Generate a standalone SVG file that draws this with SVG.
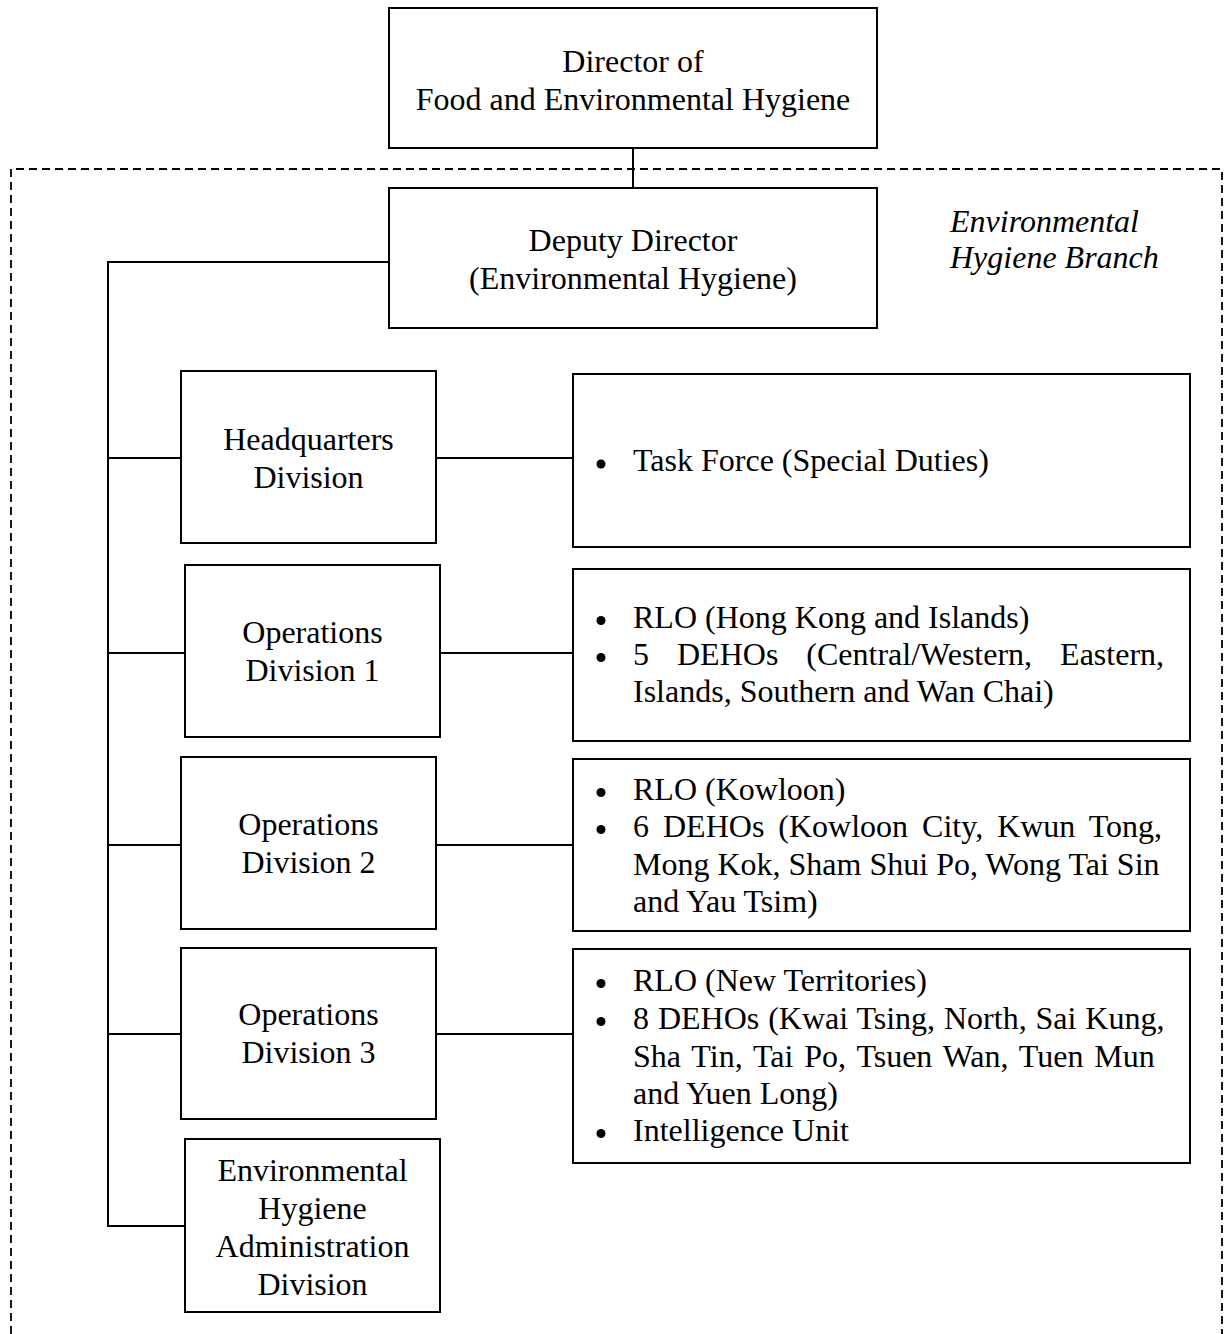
<svg xmlns="http://www.w3.org/2000/svg" width="1224" height="1334" viewBox="0 0 1224 1334">
<style>
  .box { fill: #ffffff; stroke: #000000; stroke-width: 2; }
  .conn { fill: none; stroke: #000000; stroke-width: 2; }
  .dash { fill: none; stroke: #000000; stroke-width: 1.8; stroke-dasharray: 8 5; }
  .dot { fill: #000000; }
  text { font-family: "Liberation Serif", "Times New Roman", serif; font-size: 32px; fill: #000000; }
  .c { text-anchor: middle; }
  .it { font-style: italic; }
</style>
<rect width="1224" height="1334" fill="#ffffff"/>

<g id="branch-boundary">
  <path class="dash" d="M11,1334 V169 H1222 V1334"/>
  <text class="it" x="950" y="232">Environmental</text>
  <text class="it" x="950" y="268">Hygiene Branch</text>
</g>

<g id="connectors">
  <line class="conn" x1="633" y1="148" x2="633" y2="188"/>
  <polyline class="conn" points="389,262 108,262 108,1226 185,1226"/>
  <line class="conn" x1="108" y1="458" x2="181" y2="458"/>
  <line class="conn" x1="108" y1="653" x2="185" y2="653"/>
  <line class="conn" x1="108" y1="845" x2="181" y2="845"/>
  <line class="conn" x1="108" y1="1034" x2="181" y2="1034"/>
  <line class="conn" x1="436" y1="458" x2="573" y2="458"/>
  <line class="conn" x1="440" y1="653" x2="573" y2="653"/>
  <line class="conn" x1="436" y1="845" x2="573" y2="845"/>
  <line class="conn" x1="436" y1="1034" x2="573" y2="1034"/>
</g>

<g id="director">
  <rect class="box" x="389" y="8" width="488" height="140"/>
  <text class="c" x="633" y="72">Director of</text>
  <text class="c" x="633" y="110">Food and Environmental Hygiene</text>
</g>

<g id="deputy-director">
  <rect class="box" x="389" y="188" width="488" height="140"/>
  <text class="c" x="633" y="251">Deputy Director</text>
  <text class="c" x="633" y="289">(Environmental Hygiene)</text>
</g>

<g id="hq-division">
  <rect class="box" x="181" y="371" width="255" height="172"/>
  <text class="c" x="308.5" y="450">Headquarters</text>
  <text class="c" x="308.5" y="488">Division</text>
</g>

<g id="hq-units">
  <rect class="box" x="573" y="374" width="617" height="173"/>
  <circle class="dot" cx="601" cy="464" r="4.5"/>
  <text x="633" y="471">Task Force (Special Duties)</text>
</g>

<g id="ops-division-1">
  <rect class="box" x="185" y="565" width="255" height="172"/>
  <text class="c" x="312.5" y="643">Operations</text>
  <text class="c" x="312.5" y="681">Division 1</text>
</g>

<g id="ops-1-units">
  <rect class="box" x="573" y="569" width="617" height="172"/>
  <circle class="dot" cx="601" cy="620.5" r="4.5"/>
  <text x="633" y="628">RLO (Hong Kong and Islands)</text>
  <circle class="dot" cx="601" cy="657.5" r="4.5"/>
  <text x="633" y="665" style="word-spacing:20px">5 DEHOs (Central/Western, Eastern,</text>
  <text x="633" y="702">Islands, Southern and Wan Chai)</text>
</g>

<g id="ops-division-2">
  <rect class="box" x="181" y="757" width="255" height="172"/>
  <text class="c" x="308.5" y="835">Operations</text>
  <text class="c" x="308.5" y="873">Division 2</text>
</g>

<g id="ops-2-units">
  <rect class="box" x="573" y="759" width="617" height="172"/>
  <circle class="dot" cx="601" cy="792.5" r="4.5"/>
  <text x="633" y="800">RLO (Kowloon)</text>
  <circle class="dot" cx="601" cy="829.5" r="4.5"/>
  <text x="633" y="837" style="word-spacing:6px">6 DEHOs (Kowloon City, Kwun Tong,</text>
  <text x="633" y="875">Mong Kok, Sham Shui Po, Wong Tai Sin</text>
  <text x="633" y="912">and Yau Tsim)</text>
</g>

<g id="ops-division-3">
  <rect class="box" x="181" y="948" width="255" height="171"/>
  <text class="c" x="308.5" y="1025">Operations</text>
  <text class="c" x="308.5" y="1063">Division 3</text>
</g>

<g id="ops-3-units">
  <rect class="box" x="573" y="949" width="617" height="214"/>
  <circle class="dot" cx="601" cy="983.5" r="4.5"/>
  <text x="633" y="991">RLO (New Territories)</text>
  <circle class="dot" cx="601" cy="1021.5" r="4.5"/>
  <text x="633" y="1029" style="word-spacing:0.9px">8 DEHOs (Kwai Tsing, North, Sai Kung,</text>
  <text x="633" y="1067" style="word-spacing:2.9px">Sha Tin, Tai Po, Tsuen Wan, Tuen Mun</text>
  <text x="633" y="1104">and Yuen Long)</text>
  <circle class="dot" cx="601" cy="1133.5" r="4.5"/>
  <text x="633" y="1141">Intelligence Unit</text>
</g>

<g id="eh-admin-division">
  <rect class="box" x="185" y="1139" width="255" height="173"/>
  <text class="c" x="312.5" y="1181">Environmental</text>
  <text class="c" x="312.5" y="1219">Hygiene</text>
  <text class="c" x="312.5" y="1257">Administration</text>
  <text class="c" x="312.5" y="1295">Division</text>
</g>
</svg>
